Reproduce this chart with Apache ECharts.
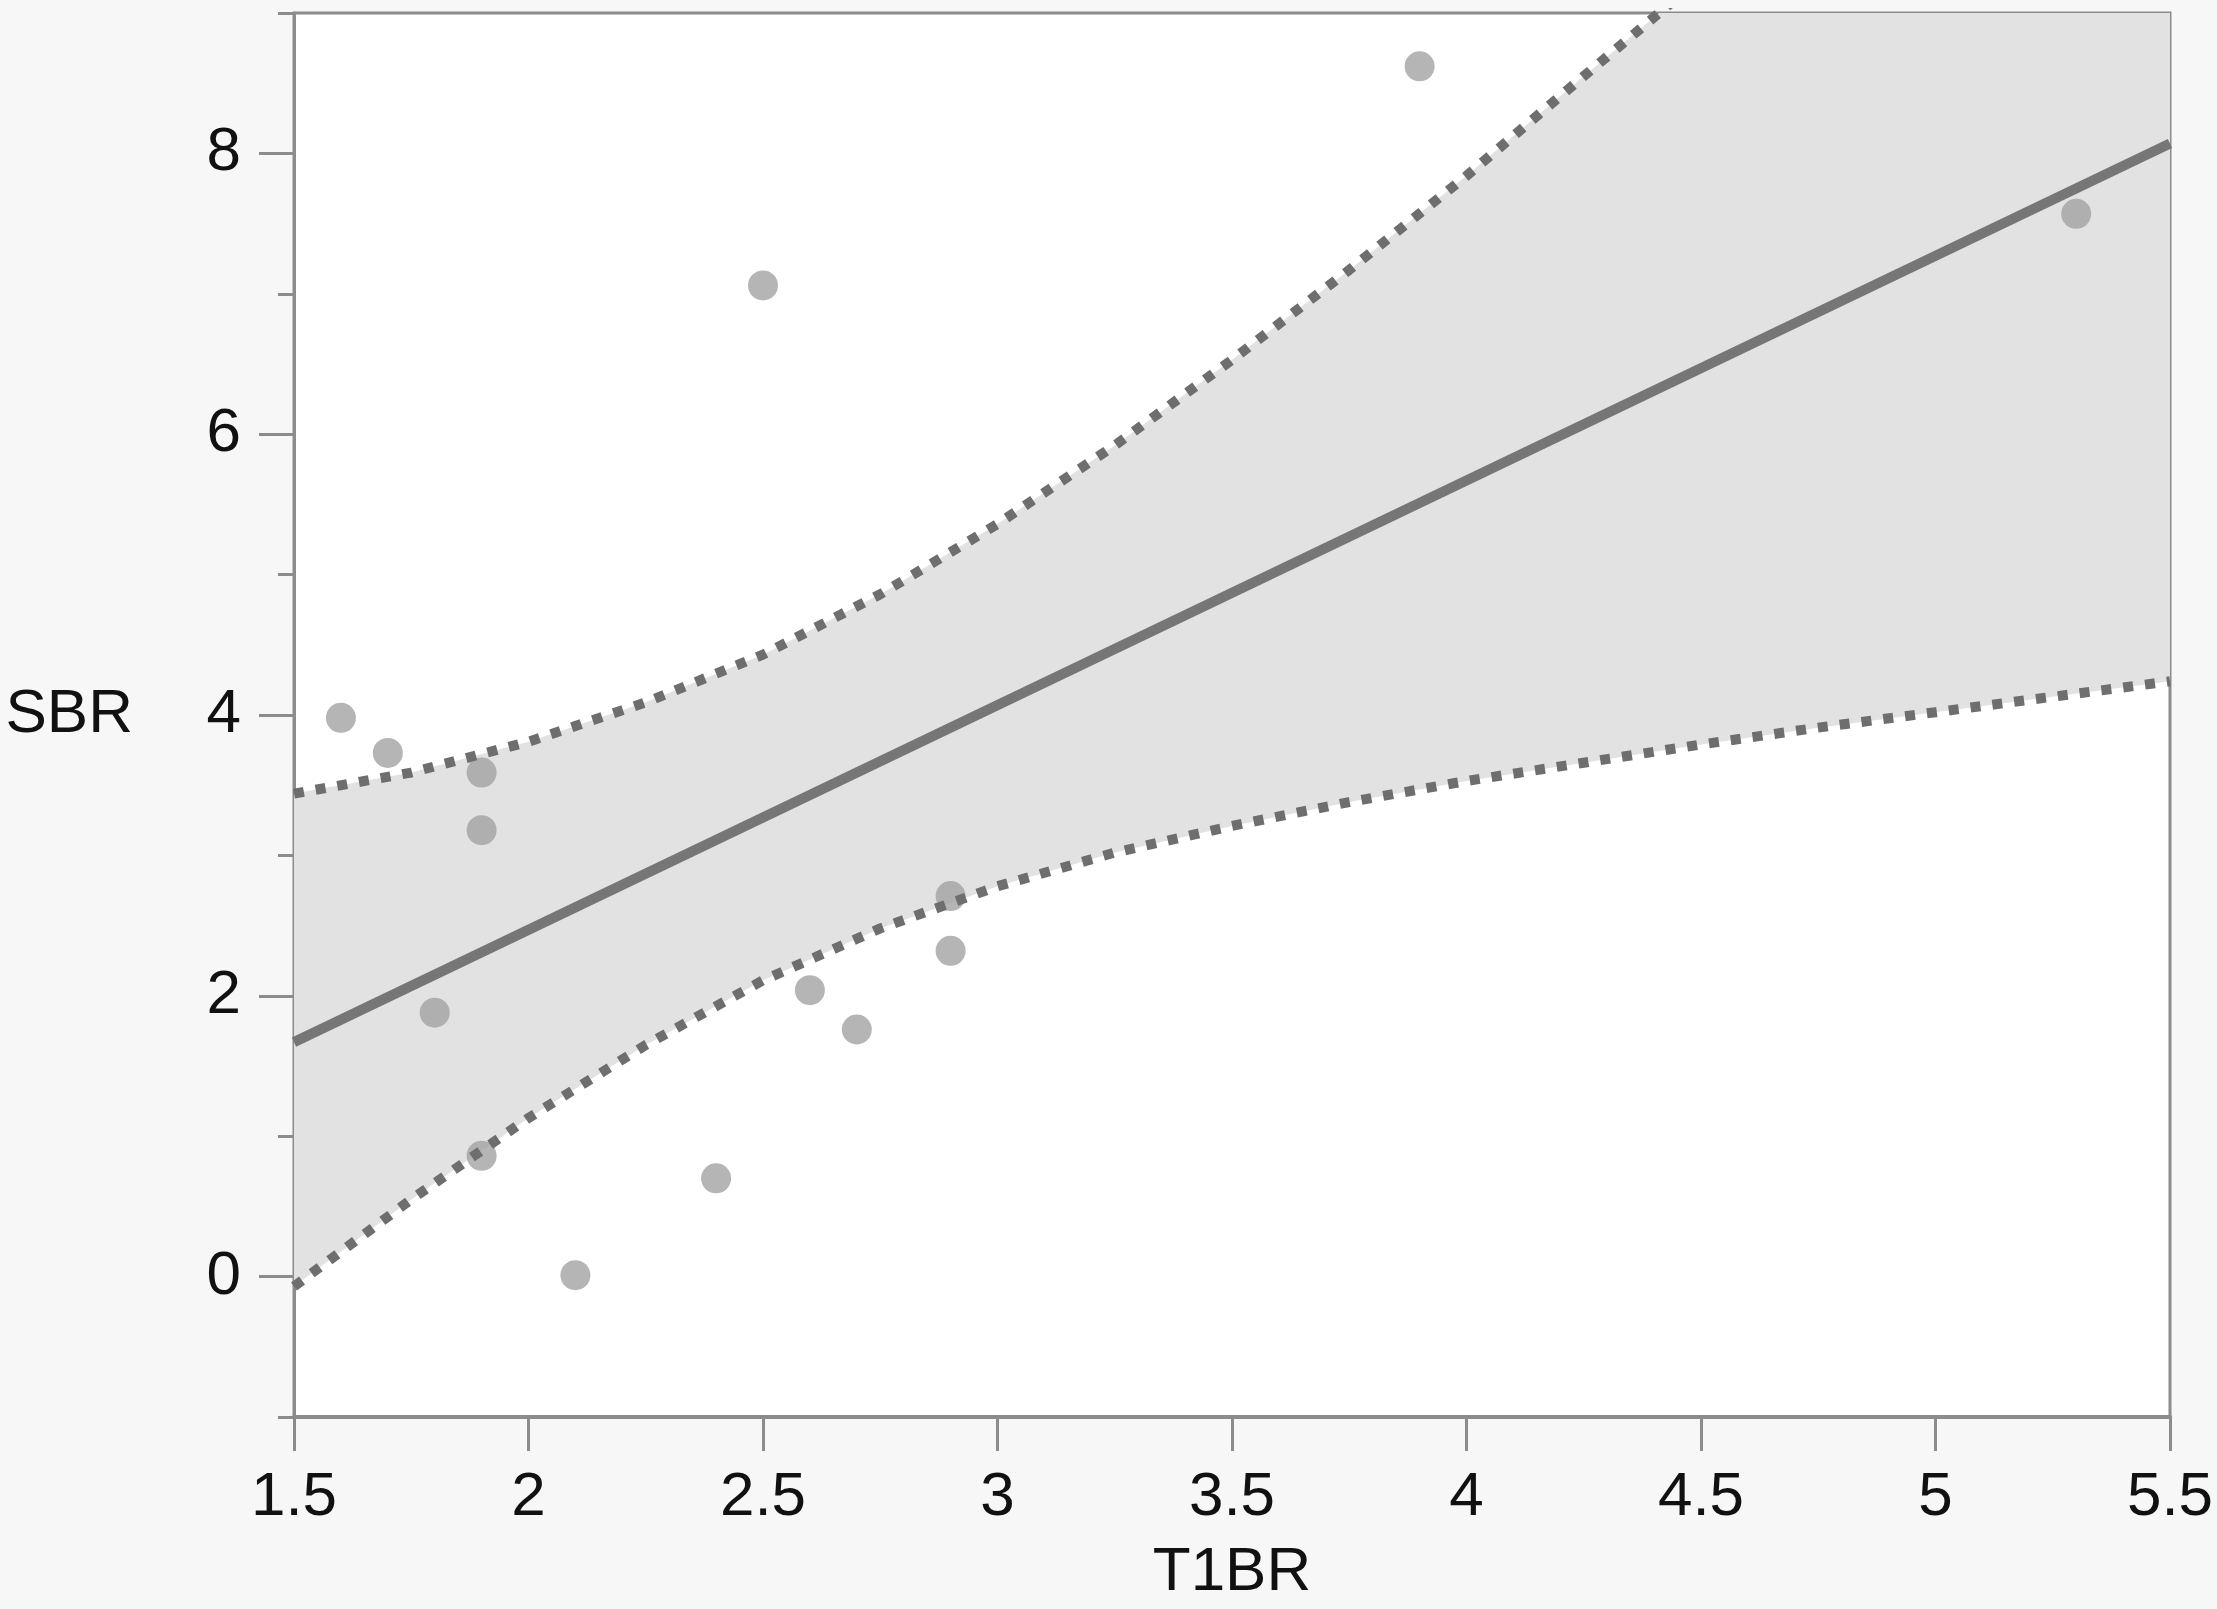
<!DOCTYPE html>
<html>
<head>
<meta charset="utf-8">
<script src="https://cdn.jsdelivr.net/npm/echarts@6/dist/echarts.min.js"></script>
<style>
  html, body { margin: 0; padding: 0; background: #f7f7f7; }
  #chart { width: 2217px; height: 1609px; }
</style>
</head>
<body>
<div id="chart"></div>
<script>
// Observed points
const t1br = [1.6, 1.7, 1.9, 1.9, 1.8, 1.9, 2.1, 2.4, 2.5, 2.6, 2.7, 2.9, 2.9, 3.9, 5.3];
const sbr  = [3.98, 3.73, 3.59, 3.18, 1.88, 0.86, 0.01, 0.70, 7.06, 2.04, 1.76, 2.71, 2.32, 8.62, 7.57];

// Fit line (read at both ends of the x range)
const fitX = [1.5, 5.5];
const fitY = [1.67, 8.07];

// Confidence band curves, read at sample x positions
const bandX   = [1.5, 1.75, 2.0, 2.25, 2.5, 2.75, 3.0, 3.25, 3.5, 3.75, 4.0, 4.25, 4.5, 4.75, 5.0, 5.25, 5.5];
const upperCI = [3.44, 3.59, 3.81, 4.09, 4.43, 4.86, 5.36, 5.92, 6.53, 7.17, 7.84, 8.55, 9.25, 9.95, 10.6, 11.3, 11.9];
const lowerCI = [-0.07, 0.55, 1.13, 1.65, 2.11, 2.48, 2.78, 3.02, 3.21, 3.38, 3.53, 3.66, 3.79, 3.91, 4.02, 4.13, 4.24];

// Axis ticks
const xTicks = [1.5, 2, 2.5, 3, 3.5, 4, 4.5, 5, 5.5];
const yMajor = [0, 2, 4, 6, 8];
const yMinor = [-1, 1, 3, 5, 7, 9];

const axisGray = '#8c8c8c';
const font = '"Liberation Sans", Arial, Helvetica, sans-serif';
const fs = 62;

const pts = t1br.map((x, i) => [x, sbr[i]]);
const lowerPts = bandX.map((x, i) => [x, lowerCI[i]]);
const upperPts = bandX.map((x, i) => [x, upperCI[i]]);
const fitPts = fitX.map((x, i) => [x, fitY[i]]);

function renderBand(params, api) {
  if (params.dataIndex !== 0) return null;
  const cs = params.coordSys;
  const poly = [];
  for (let i = 0; i < bandX.length; i++) poly.push(api.coord([bandX[i], upperCI[i]]));
  for (let i = bandX.length - 1; i >= 0; i--) poly.push(api.coord([bandX[i], lowerCI[i]]));
  return {
    type: 'group',
    clipPath: { type: 'rect', shape: { x: cs.x, y: cs.y, width: cs.width, height: cs.height } },
    children: [{
      type: 'polygon',
      shape: { points: poly },
      style: { fill: '#e2e2e2', stroke: null }
    }]
  };
}

const chart = echarts.init(document.getElementById('chart'), null, { renderer: 'canvas' });
chart.setOption({
  backgroundColor: '#f7f7f7',
  animation: false,
  grid: {
    left: 294, right: 47, top: 13, bottom: 191,
    show: true, backgroundColor: '#ffffff',
    borderColor: axisGray, borderWidth: 3
  },
  xAxis: {
    type: 'value', min: 1.5, max: 5.5, interval: 0.5,
    position: 'bottom',
    name: 'T1BR', nameLocation: 'middle', nameGap: 125,
    nameTextStyle: { color: '#111', fontSize: fs, fontFamily: font },
    axisLine: { show: true, onZero: false, lineStyle: { color: axisGray, width: 4 } },
    axisTick: { show: true, length: 34, lineStyle: { color: axisGray, width: 3 },
                customValues: xTicks },
    axisLabel: { color: '#111', fontSize: fs, fontFamily: font, margin: 50,
                 customValues: xTicks },
    splitLine: { show: false }
  },
  yAxis: [
    {
      type: 'value', min: -1, max: 9, position: 'left',
      name: 'SBR', nameLocation: 'middle', nameGap: 161, nameRotate: 0,
      nameTextStyle: { color: '#111', fontSize: fs, fontFamily: font },
      axisLine: { show: true, onZero: false, lineStyle: { color: axisGray, width: 3 } },
      axisTick: { show: true, length: 35, lineStyle: { color: axisGray, width: 3 },
                  customValues: yMajor },
      axisLabel: { color: '#111', fontSize: fs, fontFamily: font, margin: 53,
                   customValues: yMajor },
      splitLine: { show: false }
    },
    {
      type: 'value', min: -1, max: 9, position: 'left',
      axisLine: { show: false, onZero: false },
      axisTick: { show: true, length: 16, lineStyle: { color: axisGray, width: 3 },
                  customValues: yMinor },
      axisLabel: { show: false },
      splitLine: { show: false }
    }
  ],
  series: [
    {
      type: 'custom', renderItem: renderBand, data: upperPts,
      encode: { x: 0, y: 1 }, clip: true, silent: true, z: 1
    },
    {
      type: 'scatter', data: pts, symbol: 'circle', symbolSize: 30,
      itemStyle: { color: '#a3a3a3' }, z: 3
    },
    {
      type: 'line', data: fitPts, symbol: 'none',
      lineStyle: { color: '#767676', width: 10 }, z: 4
    },
    {
      type: 'line', data: upperPts, symbol: 'none', smooth: false,
      lineStyle: { color: '#6e6e6e', width: 10, type: [10, 12], cap: 'butt' }, z: 5
    },
    {
      type: 'line', data: lowerPts, symbol: 'none', smooth: false,
      lineStyle: { color: '#6e6e6e', width: 10, type: [10, 12], cap: 'butt' }, z: 5
    }
  ]
});
</script>
</body>
</html>
